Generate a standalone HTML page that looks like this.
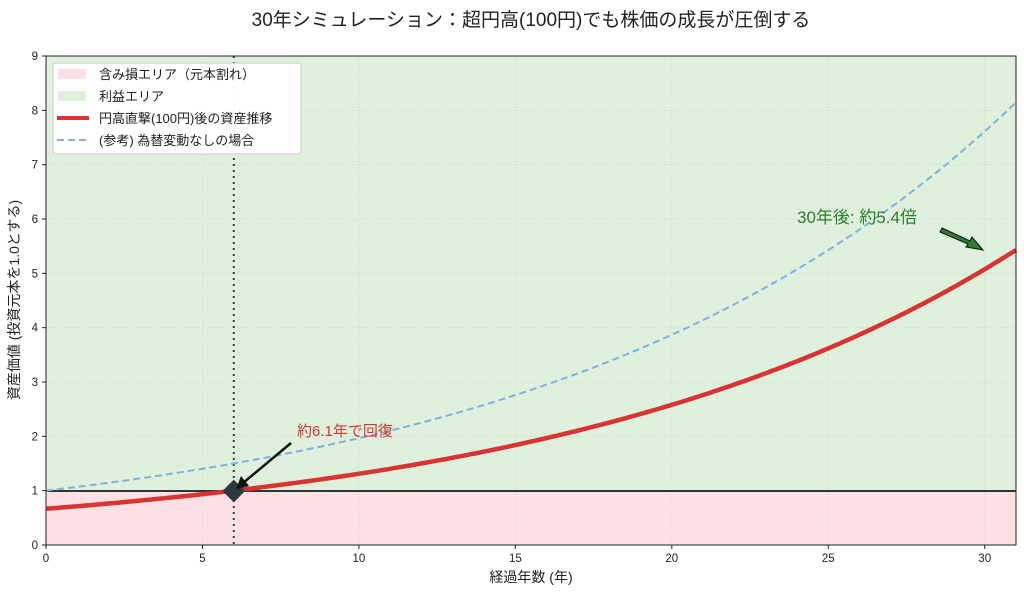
<!DOCTYPE html>
<html><head><meta charset="utf-8"><style>
body{margin:0;background:#fff;}
svg text{font-family:"Liberation Sans","Noto Sans CJK JP",sans-serif;}
</style></head><body>
<svg id="s" width="1024" height="594" xmlns="http://www.w3.org/2000/svg">
<text x="531" y="26" font-size="19" text-anchor="middle" fill="#222">30年シミュレーション：超円高(100円)でも株価の成長が圧倒する</text>
<rect x="46" y="56" width="970" height="435" fill="#dff0dd"/>
<rect x="46" y="491" width="970" height="54" fill="#fde0e3"/>
<g id="grid" stroke="#c8d4c8" stroke-width="0.8" stroke-dasharray="1,2"></g>
<line x1="46" y1="491" x2="1016" y2="491" stroke="#333" stroke-width="2"/>
<line x1="233.8" y1="56" x2="233.8" y2="545" stroke="#243" stroke-width="2" stroke-dasharray="2,4"/>
<path id="blue" fill="none" stroke="#7fb0de" stroke-width="2" stroke-dasharray="7,4"/>
<path id="red" fill="none" stroke="#d93333" stroke-width="4.5"/>
<rect x="-8" y="-8" width="16" height="16" fill="#2c3a3f" transform="translate(233.8,491) rotate(45)"/>
<line x1="291" y1="443" x2="243" y2="483" stroke="#111" stroke-width="2.5"/>
<polygon points="236,489 241,476 249,486" fill="#111"/>
<text x="297" y="436" font-size="15" fill="#d93333">約6.1年で回復</text>
<text x="797" y="223" font-size="17" fill="#2e7d32">30年後: 約5.4倍</text>
<polygon points="942,228 970,241 972,237 983,250 966,247 968,244 940,232" fill="#2e7d32" stroke="#111" stroke-width="1"/>
<rect x="46" y="56" width="970" height="489" fill="none" stroke="#222" stroke-width="1"/>
<g id="ticks" font-size="11.5" fill="#222"></g>
<text x="531" y="582" font-size="14" text-anchor="middle" fill="#222">経過年数 (年)</text>
<text transform="translate(19,300) rotate(-90)" font-size="14" text-anchor="middle" fill="#222">資産価値 (投資元本を1.0とする)</text>
<rect x="53" y="63" width="248" height="91" rx="3" fill="#fff" fill-opacity="0.95" stroke="#ccc"/>
<rect x="58" y="69" width="28" height="10" fill="#fde0e3"/>
<rect x="58" y="91" width="28" height="10" fill="#dff0dd"/>
<line x1="57" y1="118" x2="89" y2="118" stroke="#d93333" stroke-width="4"/>
<line x1="57" y1="140" x2="89" y2="140" stroke="#7fb0de" stroke-width="2" stroke-dasharray="7,4"/>
<g font-size="13" fill="#222">
<text x="99" y="79">含み損エリア（元本割れ）</text>
<text x="99" y="101">利益エリア</text>
<text x="99" y="123">円高直撃(100円)後の資産推移</text>
<text x="99" y="145">(参考) 為替変動なしの場合</text>
</g>
</svg>
<script>
var X=t=>46+t*970/31, Y=v=>545-v*489/9, NS="http://www.w3.org/2000/svg";
var g=document.getElementById('grid'),tk=document.getElementById('ticks');
function el(p,tag,a,txt){var e=document.createElementNS(NS,tag);for(var k in a)e.setAttribute(k,a[k]);if(txt!=null)e.textContent=txt;p.appendChild(e);}
for(var t=0;t<=30;t+=5){el(g,'line',{x1:X(t),x2:X(t),y1:56,y2:545});el(tk,'line',{x1:X(t),x2:X(t),y1:545,y2:549,stroke:'#222'});el(tk,'text',{x:X(t),y:562,'text-anchor':'middle'},t);}
for(var v=0;v<=9;v++){el(g,'line',{x1:46,x2:1016,y1:Y(v),y2:Y(v)});el(tk,'line',{x1:42,x2:46,y1:Y(v),y2:Y(v),stroke:'#222'});el(tk,'text',{x:38,y:Y(v)+4,'text-anchor':'end'},v);}
var b='',r='';for(var i=0;i<=310;i++){var t=i/10,f=Math.pow(1.07,t);b+=(i?'L':'M')+X(t).toFixed(1)+','+Y(f).toFixed(1);r+=(i?'L':'M')+X(t).toFixed(1)+','+Y(f/1.5).toFixed(1);}
document.getElementById('blue').setAttribute('d',b);document.getElementById('red').setAttribute('d',r);
</script>
</body></html>
